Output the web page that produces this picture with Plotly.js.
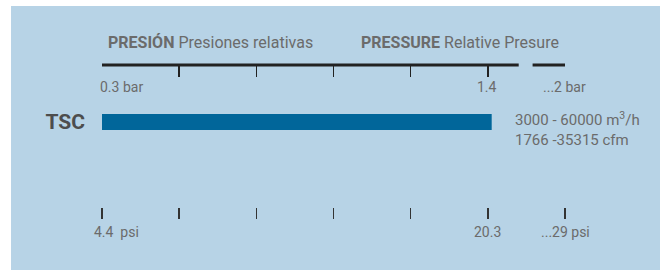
<!DOCTYPE html>
<html>
<head>
<meta charset="utf-8">
<script src="https://cdn.plot.ly/plotly-3.0.1.min.js"></script>
<style>html,body{margin:0;padding:0;background:#fff;}#chart{width:660px;height:270px;}</style>
</head>
<body>
<div id="chart"></div>
<script>
// ---- data ----
const models = ["TSC"];
const barStart = [0];
const barEnd = [5.05];
const tickPositions = [0, 1, 2, 3, 4, 5, 6];
const barLabelPositions = [0, 5, 6];
const barLabels = ["0.3 bar", "1.4", "...2 bar"];
const psiLabelPositions = [0, 5, 6];
const psiLabels = ["4.4  psi", "20.3", "...29 psi"];
const axisBreak = [5.4, 5.58];
const flowText = ["3000 - 60000 m<sup>3</sup>/h", "1766 -35315 cfm"];
const titleEs = ["PRESIÓN", "Presiones relativas"];
const titleEn = ["PRESSURE", "Relative Presure"];

const FONT = "Roboto, 'Open Sans', sans-serif";
const GREY = "#6b6b6b";

const trace = {
  type: "bar",
  orientation: "h",
  y: models,
  base: barStart,
  x: barEnd.map((e, i) => e - barStart[i]),
  width: 0.225,
  marker: {color: "#01669a"},
  hoverinfo: "skip",
  xaxis: "x",
  yaxis: "y"
};
const topTrace = {type: "scatter", mode: "none", x: [tickPositions[0], tickPositions[tickPositions.length-1]], y: [models[0], models[0]], xaxis: "x2", yaxis: "y", hoverinfo: "skip", showlegend: false};

const xmin = tickPositions[0], xmax = tickPositions[tickPositions.length - 1];

const annotations = [];
barLabels.forEach((t, i) => {
  annotations.push({
    x: barLabelPositions[i], xref: "x", y: 1, yref: "paper",
    text: t, showarrow: false,
    xanchor: i === 0 ? "left" : "center", xshift: i === 0 ? -4 : -1,
    yanchor: "middle", yshift: -21.5,
    font: {family: FONT, size: 14, color: GREY}
  });
});
psiLabels.forEach((t, i) => {
  annotations.push({
    x: psiLabelPositions[i], xref: "x", y: 0, yref: "paper",
    text: t.replace(/  /g, "&nbsp; "), showarrow: false,
    xanchor: i === 0 ? "left" : "center", xshift: i === 0 ? -10 : 0,
    yanchor: "middle", yshift: -25,
    font: {family: FONT, size: 14, color: GREY}
  });
});
annotations.push({
  x: barEnd[0], xref: "x", y: models[0], yref: "y",
  text: flowText.join("<br>"), showarrow: false, align: "left",
  xanchor: "left", xshift: 21, yanchor: "top", yshift: 15,
  font: {family: FONT, size: 15, color: GREY}
});
annotations.push({
  x: 0.009, xref: "paper", y: 1, yref: "paper", yshift: 23,
  text: "<b>" + titleEs[0] + "</b> " + titleEs[1], showarrow: false,
  xanchor: "left", yanchor: "middle",
  font: {family: FONT, size: 16, color: GREY}
});
annotations.push({
  x: 0.555, xref: "paper", y: 1, yref: "paper", yshift: 23,
  text: "<b>" + titleEn[0] + "</b> " + titleEn[1], showarrow: false,
  xanchor: "left", yanchor: "middle",
  font: {family: FONT, size: 16, color: GREY}
});

const layout = {
  width: 660, height: 270,
  margin: {l: 102, r: 95, t: 65, b: 63, pad: 0},
  paper_bgcolor: "#ffffff",
  plot_bgcolor: "rgba(0,0,0,0)",
  showlegend: false,
  xaxis: {
    range: [xmin, xmax], showgrid: false, zeroline: false, showline: false,
    tickmode: "array", tickvals: tickPositions, showticklabels: false,
    ticks: "outside", ticklen: 11, tickwidth: 1.5, tickcolor: "#333333",
    fixedrange: true
  },
  xaxis2: {
    overlaying: "x", side: "top", anchor: "y",
    range: [xmin, xmax], showgrid: false, zeroline: false, showline: false,
    tickmode: "array", tickvals: tickPositions, showticklabels: false,
    ticks: "inside", ticklen: 12, tickwidth: 1.5, tickcolor: "#222222",
    fixedrange: true
  },
  yaxis: {
    type: "category", range: [-1.197, 0.803],
    showgrid: false, zeroline: false, showline: false, ticks: "",
    ticklabelstandoff: 16,
    tickfont: {family: FONT, size: 21, color: "#4d4d4d", weight: "bold"},
    fixedrange: true
  },
  shapes: [
    {type: "rect", xref: "paper", yref: "paper", x0: -0.1965, x1: 1.5, y0: -0.8, y1: 1.4155,
     fillcolor: "#b7d3e6", line: {width: 0}, layer: "below"},
    {type: "line", xref: "x", yref: "paper", x0: xmin, x1: axisBreak[0], y0: 1, y1: 1,
     line: {color: "#222222", width: 3}},
    {type: "line", xref: "x", yref: "paper", x0: axisBreak[1], x1: xmax, y0: 1, y1: 1,
     line: {color: "#222222", width: 3}}
  ],
  annotations: annotations
};

Plotly.newPlot("chart", [trace, topTrace], layout, {displayModeBar: false, staticPlot: true});
</script>
</body>
</html>
